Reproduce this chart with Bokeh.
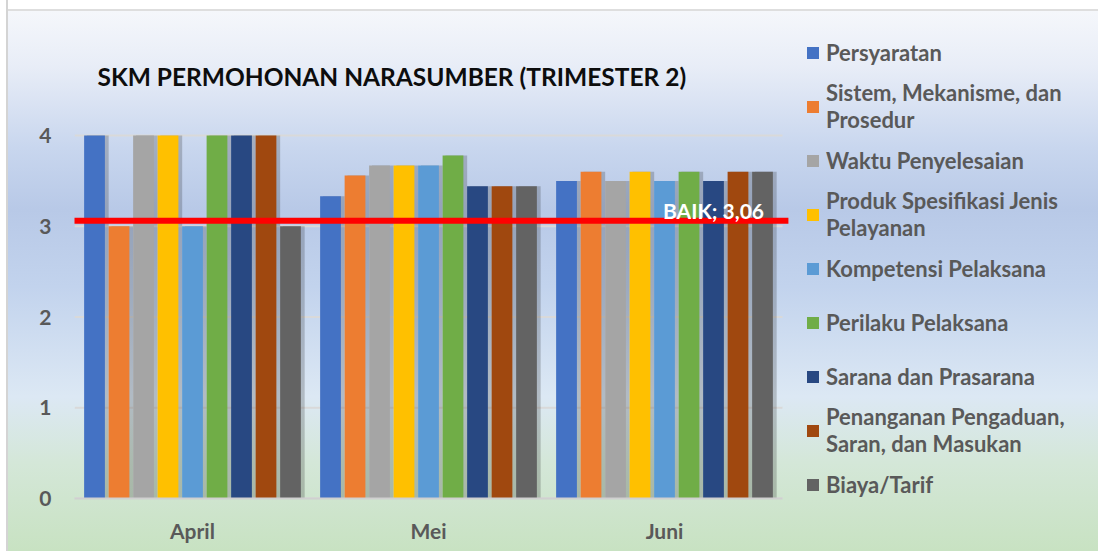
import textwrap
from bokeh.plotting import figure
from bokeh.models import (ColumnDataSource, Legend, LegendItem, Label, Range1d,
                          FixedTicker)
from bokeh.transform import dodge
from bokeh.core.properties import value
from bokeh.embed import file_html
from bokeh.resources import INLINE

# ---------------- data ----------------
months = ["April", "Mei", "Juni"]
series_names = [
    "Persyaratan",
    "Sistem, Mekanisme, dan Prosedur",
    "Waktu Penyelesaian",
    "Produk Spesifikasi Jenis Pelayanan",
    "Kompetensi Pelaksana",
    "Perilaku Pelaksana",
    "Sarana dan Prasarana",
    "Penanganan Pengaduan, Saran, dan Masukan",
    "Biaya/Tarif",
]
persyaratan = [4.00, 3.33, 3.50]
sistem = [3.00, 3.56, 3.60]
waktu = [4.00, 3.67, 3.50]
produk = [4.00, 3.67, 3.60]
kompetensi = [3.00, 3.67, 3.50]
perilaku = [4.00, 3.78, 3.60]
sarana = [4.00, 3.44, 3.50]
penanganan = [4.00, 3.44, 3.60]
biaya = [3.00, 3.44, 3.60]
baik_value = 3.06
baik_label = "BAIK"
y_ticks = [0, 1, 2, 3, 4]
title_text = "SKM PERMOHONAN NARASUMBER (TRIMESTER 2)"

series_values = [persyaratan, sistem, waktu, produk, kompetensi,
                 perilaku, sarana, penanganan, biaya]
colors = ["#4472C4", "#ED7D31", "#A5A5A5", "#FFC000", "#5B9BD5",
          "#70AD47", "#284882", "#A0480F", "#636363"]

# ---------------- layout constants ----------------
FONT = "Lato"
TEXT_COLOR = "#595959"
W, H = 1098, 551
LEFT, BOTTOM = 74, 53          # borders around the plotting frame
CAT_PX = 708                   # width of the category area in pixels
VAL_PX = 363                   # height of the value area (0..4) in pixels
frame_w = W - LEFT
frame_h = H - BOTTOM
n_cat = len(months)
x_end = n_cat * frame_w / CAT_PX
y_end = max(y_ticks) * frame_h / VAL_PX

data = {"xc": [i + 0.5 for i in range(n_cat)], "month": months}
keys = []
for i, vals in enumerate(series_values):
    k = f"s{i}"
    keys.append(k)
    data[k] = vals
source = ColumnDataSource(data)

p = figure(
    x_range=Range1d(0, x_end), y_range=Range1d(0, y_end),
    width=W, height=H,
    output_backend="svg", toolbar_location=None,
    min_border_left=LEFT, min_border_right=0,
    min_border_top=0, min_border_bottom=BOTTOM,
)
p.background_fill_color = None
p.border_fill_color = None
p.outline_line_color = None
p.styles = {
    "background":
        "linear-gradient(90deg, #ffffff 0px, #ffffff 6px, #d4d4d4 6px, #d4d4d4 8px, transparent 8px), "
        "linear-gradient(180deg, #ffffff 0px, #ffffff 9px, #dedede 9px, #dedede 11px, "
        "#f5f7fb 11px, #e8edf7 12%, #c8d6ee 27%, #b8c9e7 38%, #c2d3ed 52%, "
        "#dce8f4 72%, #d4e7d8 84%, #c8e2c2 100%)",
}

# horizontal grid lines over the category area only
grid_src = ColumnDataSource({"y": y_ticks, "x0": [0] * len(y_ticks),
                             "x1": [n_cat] * len(y_ticks)})
p.segment(x0="x0", x1="x1", y0="y", y1="y", source=grid_src,
          line_color="#d9d9d9", line_width=2)

pitch = 0.1038
bar_w = 0.088
renderers = []
for i, k in enumerate(keys):
    off = (i - 4) * pitch
    p.vbar(x=dodge("xc", off + 0.014), top=k, width=bar_w + 0.004,
           source=source, fill_color="#1a1a1a", fill_alpha=0.22, line_color=None)
for i, k in enumerate(keys):
    off = (i - 4) * pitch
    r = p.vbar(x=dodge("xc", off), top=k, width=bar_w,
               source=source, fill_color=colors[i], line_color=None)
    renderers.append(r)

# target line (BAIK)
line_src = ColumnDataSource({"x0": [-0.05], "x1": [n_cat + 0.025],
                             "y": [baik_value]})
p.segment(x0="x0", x1="x1", y0="y", y1="y", source=line_src,
          line_color="#ff0000", line_width=6)
lab_src = ColumnDataSource({"xc": [n_cat - 0.5], "y": [baik_value],
                            "t": [f"{baik_label}; " + f"{baik_value:.2f}".replace(".", ",")]})
p.text(x=dodge("xc", 2 * pitch), y="y", text="t", source=lab_src,
       text_align="center", text_baseline="alphabetic", y_offset=-10,
       text_font=value(FONT), text_font_style="bold", text_font_size="21px",
       text_color="white")

# axes
p.yaxis.ticker = FixedTicker(ticks=y_ticks)
p.yaxis.axis_line_color = None
p.yaxis.major_tick_line_color = None
p.yaxis.minor_tick_line_color = None
p.yaxis.major_label_standoff = 17
p.xaxis.ticker = FixedTicker(ticks=data["xc"])
p.xaxis.major_label_overrides = {x: m for x, m in zip(data["xc"], months)}
p.xaxis.bounds = (0, n_cat)
p.xaxis.axis_line_color = "#d0d0d0"
p.xaxis.axis_line_width = 2
p.xaxis.major_tick_line_color = None
p.xaxis.minor_tick_line_color = None
p.xaxis.major_label_standoff = 13
for ax in (p.xaxis, p.yaxis):
    ax.major_label_text_font = FONT
    ax.major_label_text_font_style = "bold"
    ax.major_label_text_font_size = "21px"
    ax.major_label_text_color = TEXT_COLOR
p.grid.visible = False

# title (screen units, relative to frame bottom-left)
p.add_layout(Label(x=23, y=frame_h - 76, x_units="screen", y_units="screen",
                   text=title_text, text_font=FONT, text_font_style="bold",
                   text_font_size="24.5px", text_color="#0d0d0d",
                   text_baseline="alphabetic"))

# legend
items = [LegendItem(label=textwrap.fill(n, 24), renderers=[r])
         for n, r in zip(series_names, renderers)]
legend = Legend(items=items, location=(731, -13), glyph_width=15, glyph_height=15,
                label_text_font=FONT, label_text_font_style="bold",
                label_text_font_size="22px", label_text_color=TEXT_COLOR,
                label_text_line_height=1.2,
                background_fill_alpha=0, border_line_alpha=0, padding=0, margin=0,
                spacing=0, label_standoff=6, label_height=54)
p.add_layout(legend)

open("out.html", "w").write(file_html(p, INLINE))
